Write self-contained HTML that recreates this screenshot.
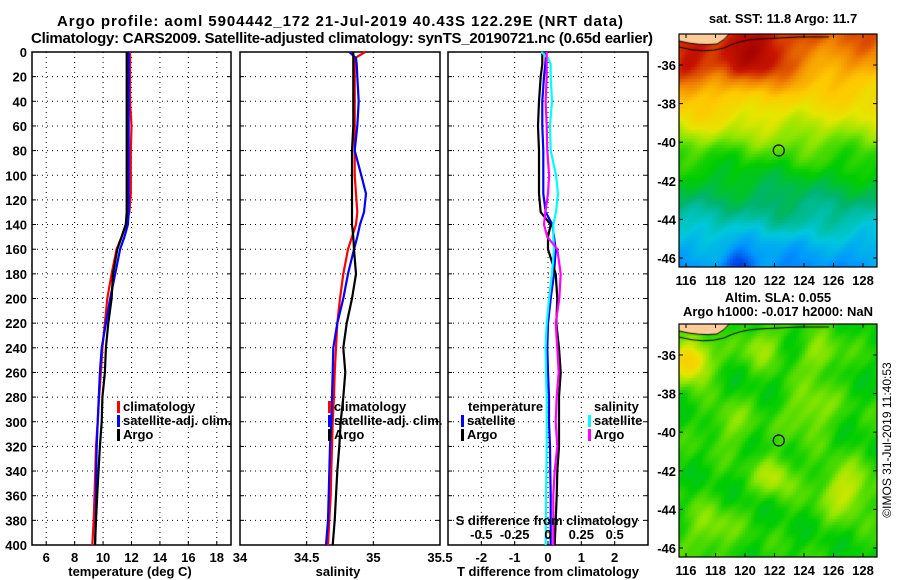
<!DOCTYPE html>
<html><head><meta charset="utf-8"><style>
html,body{margin:0;padding:0;background:#fff;}
#wrap{position:relative;width:900px;height:580px;overflow:hidden;}
svg text{font-family:"Liberation Sans",sans-serif;font-weight:bold;font-size:13px;fill:#000;}
canvas{position:absolute;}
</style></head><body>
<div id="wrap">
<canvas id="sstMap" width="198" height="233" style="left:679px;top:34px"></canvas>
<canvas id="slaMap" width="198" height="233" style="left:679px;top:324px"></canvas>
<svg id="fig" width="900" height="580" style="position:absolute;left:0;top:0">
<text x="340" y="26" text-anchor="middle" textLength="566" style="font-size:15px">Argo profile: aoml 5904442_172 21-Jul-2019 40.43S 122.29E (NRT data)</text>
<text x="342" y="43" text-anchor="middle" textLength="622" style="font-size:15px">Climatology: CARS2009. Satellite-adjusted climatology: synTS_20190721.nc (0.65d earlier)</text>
<text x="783" y="23" text-anchor="middle">sat. SST: 11.8 Argo: 11.7</text>
<text x="778" y="302" text-anchor="middle">Altim. SLA: 0.055</text>
<text x="778" y="316" text-anchor="middle">Argo h1000: -0.017 h2000: NaN</text>
<text transform="translate(891,440) rotate(-90)" text-anchor="middle" style="font-weight:normal;font-size:12px">©IMOS 31-Jul-2019 11:40:53</text>
</svg>
</div>
<script>
// ---- profile data ----
const depths = [0,5,10,20,40,60,80,100,115,130,140,150,160,180,200,220,240,260,280,300,320,340,360,380,400];
const tClim = [11.9,11.9,11.9,11.9,11.9,12.0,11.95,11.95,11.95,11.85,11.6,11.3,10.95,10.6,10.3,10.13,9.95,9.85,9.72,9.62,9.5,9.45,9.4,9.34,9.24];
const tSat = [11.8,11.8,11.8,11.8,11.8,11.8,11.8,11.8,11.8,11.8,11.75,11.5,11.2,10.85,10.5,10.2,9.9,9.78,9.7,9.62,9.55,9.52,9.5,9.48,9.43];
const tArgo = [11.66,11.66,11.66,11.66,11.66,11.66,11.66,11.66,11.66,11.66,11.6,11.3,11.0,10.7,10.6,10.37,10.2,10.13,9.95,9.9,9.78,9.68,9.59,9.5,9.43];
const sClim = [34.94,34.86,34.86,34.86,34.86,34.86,34.86,34.86,34.87,34.88,34.87,34.84,34.81,34.775,34.75,34.73,34.72,34.71,34.705,34.695,34.69,34.685,34.68,34.67,34.66];
const sSat = [34.82,34.87,34.875,34.88,34.89,34.88,34.86,34.91,34.945,34.93,34.9,34.88,34.855,34.81,34.775,34.73,34.7,34.695,34.69,34.685,34.675,34.67,34.665,34.66,34.645];
const sArgo = [34.85,34.85,34.85,34.85,34.85,34.85,34.84,34.84,34.84,34.84,34.84,34.85,34.855,34.87,34.84,34.8,34.775,34.79,34.775,34.755,34.745,34.73,34.72,34.71,34.695];
const dTArgo = [-0.17,-0.17,-0.17,-0.22,-0.27,-0.3,-0.27,-0.27,-0.27,-0.22,0.08,0,0,0.23,0.28,0.25,0.33,0.38,0.33,0.33,0.33,0.28,0.26,0.23,0.2];
const dTSat = [-0.07,-0.07,-0.08,-0.12,-0.17,-0.17,-0.14,-0.14,-0.14,-0.07,0.13,0.18,0.23,0.18,0.08,0,-0.02,0,0.03,0.03,0.06,0.07,0.08,0.08,0.08];
const dSSat = [-0.05,0.0,0.02,0.02,0.03,0.015,0.02,0.06,0.075,0.06,0.04,0.04,0.045,0.03,0.008,-0.01,-0.018,-0.015,-0.01,-0.01,-0.01,-0.012,-0.015,-0.016,-0.018];
const dSArgo = [-0.01,-0.01,-0.01,-0.01,-0.018,-0.01,-0.005,0.008,0,-0.02,-0.03,-0.005,0.07,0.095,0.085,0.058,0.07,0.08,0.065,0.058,0.07,0.05,0.04,0.04,0.04];
const depthTicks = [0,20,40,60,80,100,120,140,160,180,200,220,240,260,280,300,320,340,360,380,400];
const tTicks = [6,8,10,12,14,16,18];
const sTicks = [34,34.5,35,35.5];
const dTTicks = [-2,-1,0,1,2];
const dSTicks = [-0.5,-0.25,0,0.25,0.5];
const lonTicks = [116,118,120,122,124,126,128];
const latTicks = [-36,-38,-40,-42,-44,-46];

const NS='http://www.w3.org/2000/svg';
const svg=document.getElementById('fig');
function el(tag,attrs,parent){const e=document.createElementNS(NS,tag);for(const k in attrs)e.setAttribute(k,attrs[k]);(parent||svg).appendChild(e);return e;}
const yTop=52,yBot=545;
const yD=d=>yTop+(d/400)*(yBot-yTop);

function panel(name,x0,x1,xmin,xmax,xticks,gridTicks,labelFn,showY,xtitle,xtc){
  const g=el('g',{});
  
  
  const sx=v=>x0+(v-xmin)/(xmax-xmin)*(x1-x0);
  depthTicks.forEach(d=>{ if(d>0&&d<400){const l=el('line',{x1:x0,x2:x1,y1:yD(d),y2:yD(d),stroke:'#000','stroke-width':1,'stroke-dasharray':'1 4'},g);
    }
    const tk=el('line',{x1:x0,x2:x0+4,y1:yD(d),y2:yD(d),stroke:'#000'},g);
    
    const tk2=el('line',{x1:x1-4,x2:x1,y1:yD(d),y2:yD(d),stroke:'#000'},g);
    
    if(showY){const t=el('text',{x:x0-5,y:yD(d)+5,'text-anchor':'end'},g);t.textContent=d;
      }
  });
  gridTicks.forEach(v=>{const X=sx(v); if(X>x0+1&&X<x1-1){const l=el('line',{x1:X,x2:X,y1:yTop,y2:yBot,stroke:'#000','stroke-dasharray':'1 4'},g);
    }});
  xticks.forEach(v=>{const X=sx(v);
    const tk=el('line',{x1:X,x2:X,y1:yBot-4,y2:yBot,stroke:'#000'},g);
    
    const t=el('text',{x:X,y:yBot+17,'text-anchor':'middle'},g);t.textContent=labelFn(v);
    });
  const r=el('rect',{x:x0,y:yTop,width:x1-x0,height:yBot-yTop,fill:'none',stroke:'#000','stroke-width':1.5},g);
  
  const tt=el('text',{x:xtc,y:576,'text-anchor':'middle'},g);tt.textContent=xtitle;
  
  return sx;
}
function series(sx,vals,color,name){
  const pts=vals.map((v,i)=>sx(v).toFixed(1)+','+yD(depths[i]).toFixed(1)).join(' ');
  const p=el('polyline',{points:pts,fill:'none',stroke:color,'stroke-width':2.2});
  
  
}
function legend(x,y,color,label,name){
  const b=el('rect',{x:x,y:y-10,width:3,height:12,fill:color});
  
  if(label){const t=el('text',{x:x+6,y:y});t.textContent=label;
  }
}
function txt(x,y,s,name,anchor){const t=el('text',{x:x,y:y,'text-anchor':anchor||'start'});t.textContent=s;
  return t;}

// Panel 1 temperature
const sxT=panel('temperature-panel',32,231,5,19,tTicks,tTicks,v=>v,true,'temperature (deg C)',130);
series(sxT,tClim,'#f00','temperature-climatology-line');
series(sxT,tSat,'#00f','temperature-satellite-line');
series(sxT,tArgo,'#000','temperature-argo-line');
legend(117,411,'#f00','climatology','legend-climatology');
legend(117,425,'#00f','satellite-adj. clim.','legend-satellite');
legend(117,439,'#000','Argo','legend-argo');
// Panel 2 salinity
const sxS=panel('salinity-panel',240,440,34,35.5,sTicks,[34.5,35],v=>v,false,'salinity',338);
series(sxS,sClim,'#f00','salinity-climatology-line');
series(sxS,sSat,'#00f','salinity-satellite-line');
series(sxS,sArgo,'#000','salinity-argo-line');
legend(328,411,'#f00','climatology','legend-climatology-2');
legend(328,425,'#00f','satellite-adj. clim.','legend-satellite-2');
legend(328,439,'#000','Argo','legend-argo-2');
// Panel 3 differences
const sxD=panel('difference-panel',448,648,-3,3,dTTicks,dTTicks,v=>v,false,'T difference from climatology',548);
const sxDS=v=>sxD(v*4);
series(sxD,dTSat,'#00f','tdiff-satellite-line');
series(sxD,dTArgo,'#000','tdiff-argo-line');
series(sxDS,dSSat,'#0ff','sdiff-satellite-line');
series(sxDS,dSArgo,'#f0f','sdiff-argo-line');
txt(468,411,'temperature','legend-temperature-heading');
legend(461,425,'#00f','satellite','legend-tdiff-satellite');
legend(461,439,'#000','Argo','legend-tdiff-argo');
txt(594,411,'salinity','legend-salinity-heading');
legend(588,425,'#0ff','satellite','legend-sdiff-satellite');
legend(588,439,'#f0f','Argo','legend-sdiff-argo');
txt(547,525,'S difference from climatology','s-axis-title','middle');
dSTicks.forEach(v=>{txt(sxDS(v),539,v,'s-tick-label','middle');});

// ---- maps ----
const mx0=679,mx1=877;
const lonX=l=>686+(l-116)*14.75;
function mapAxes(top,name){
  const g=el('g',{});
  const latY=la=>top+31+(-36-la)*19.3;
  lonTicks.forEach(l=>{const X=lonX(l);
    el('line',{x1:X,x2:X,y1:top,y2:top+4,stroke:'#000'},g);
    el('line',{x1:X,x2:X,y1:top+229,y2:top+233,stroke:'#000'},g);
    const t=el('text',{x:X,y:top+251,'text-anchor':'middle'},g);t.textContent=l;
    });
  latTicks.forEach(la=>{const Y=latY(la);
    el('line',{x1:mx0,x2:mx0+4,y1:Y,y2:Y,stroke:'#000'},g);
    el('line',{x1:mx1-4,x2:mx1,y1:Y,y2:Y,stroke:'#000'},g);
    const t=el('text',{x:mx0-3,y:Y+5,'text-anchor':'end'},g);t.textContent=la;
    });
  el('rect',{x:mx0,y:top,width:mx1-mx0,height:233,fill:'none',stroke:'#000','stroke-width':1.2},g);
  const c=el('circle',{cx:lonX(122.29),cy:latY(-40.43),r:5.5,fill:'none',stroke:'#000','stroke-width':1.2},g);
  
}
function jet(v){
  v=Math.max(0,Math.min(1,v));
  const stops=[[0,[0,0,130]],[0.15,[0,40,220]],[0.28,[0,150,255]],[0.36,[0,200,220]],[0.44,[0,180,110]],[0.52,[0,205,0]],[0.6,[140,230,0]],[0.67,[230,230,0]],[0.75,[255,200,0]],[0.83,[240,130,0]],[0.91,[200,20,0]],[1,[160,0,0]]];
  for(let i=1;i<stops.length;i++){if(v<=stops[i][0]){const a=stops[i-1],b=stops[i],f=(v-a[0])/(b[0]-a[0]);
    return 'rgb('+a[1].map((c,k)=>Math.round(c+(b[1][k]-c)*f)).join(',')+')';}}
  return 'rgb(160,0,0)';
}
function n2(x,y){return Math.sin(x*0.11+y*0.05)*0.5+Math.sin(x*0.04-y*0.09+1.3)*0.5+Math.sin(x*0.23+y*0.19+0.7)*0.25;}
function gb(x,y,cx,cy,s){const dx=x-cx,dy=y-cy;return Math.exp(-(dx*dx+dy*dy)/(2*s*s));}
function drawMap(id,fn,land){
  const cv=document.getElementById(id),ctx=cv.getContext('2d');
  for(let y=0;y<233;y+=3)for(let x=0;x<198;x+=3){ctx.fillStyle=jet(fn(x,y));ctx.fillRect(x,y,3,3);}
  // coastline + land
  ctx.fillStyle='#ffcc99';ctx.beginPath();ctx.moveTo(0,0);ctx.lineTo(0,7);ctx.quadraticCurveTo(20,12,38,10);ctx.quadraticCurveTo(46,6,50,0);ctx.closePath();ctx.fill();
  ctx.strokeStyle='#000';ctx.lineWidth=1;
  ctx.beginPath();ctx.moveTo(0,7);ctx.quadraticCurveTo(20,12,38,10);ctx.quadraticCurveTo(46,6,50,0);ctx.stroke();
  ctx.beginPath();ctx.moveTo(0,13);ctx.quadraticCurveTo(25,20,45,14);ctx.quadraticCurveTo(60,6,80,5);ctx.lineTo(120,3);ctx.lineTo(150,3);ctx.stroke();
}
function sstFn(x,y){
  const prof=[[0,0.85],[30,0.8],[60,0.72],[90,0.64],[115,0.56],[150,0.48],[185,0.4],[210,0.32],[233,0.28]];
  let b=0.28;for(let i=1;i<prof.length;i++){if(y<=prof[i][0]){const f=(y-prof[i-1][0])/(prof[i][0]-prof[i-1][0]);b=prof[i-1][1]+(prof[i][1]-prof[i-1][1])*f;break;}}
  let v=b+0.03*n2(x,y);
  v+=0.14*gb(x,y,75,20,25)+0.12*gb(x,y,10,35,18)+0.05*gb(x,y,15,85,15);
  v-=0.12*gb(x,y,60,230,10);
  return v;
}
function slaFn(x,y){
  let v=0.53+0.03*n2(x*1.3,y*1.2);
  const blobs=[[10,36,0.22,14],[130,85,0.08,18],[95,150,0.1,14],[165,165,0.12,18],[30,205,0.07,18],[140,30,0.08,14],[80,20,0.08,14],[50,100,0.06,16]];
  blobs.forEach(b=>{v+=b[2]*gb(x,y,b[0],b[1],b[3]);});
  return v;
}
drawMap('sstMap',sstFn);
drawMap('slaMap',slaFn);
mapAxes(34,'sst-map-axes');
mapAxes(324,'sla-map-axes');
</script>
</body></html>
